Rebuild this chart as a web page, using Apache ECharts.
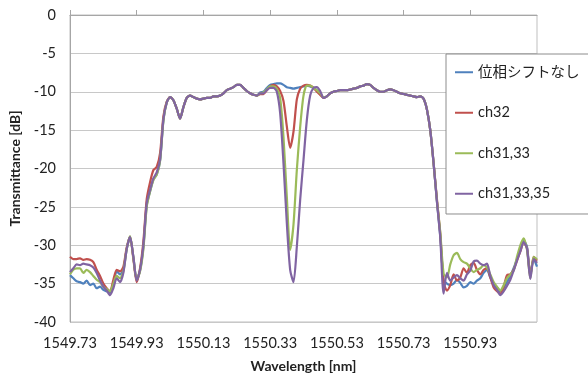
<!DOCTYPE html>
<html>
<head>
<meta charset="utf-8">
<script src="https://cdn.jsdelivr.net/npm/echarts@6/dist/echarts.min.js"></script>
<style>html,body{margin:0;padding:0;background:#fff;}#chart{width:588px;height:381px;}</style>
</head>
<body>
<div id="chart"></div>
<script>
// Wavelength grid (nm), 0.01 nm sampling
const wlStart = 1549.73, wlStep = 0.01, wlCount = 141;
const wavelengths = Array.from({length: wlCount}, (_, i) => +(wlStart + i * wlStep).toFixed(2));
const xTickLabels = ['1549.73','1549.93','1550.13','1550.33','1550.53','1550.73','1550.93'];
const seriesNames = ['位相シフトなし', 'ch32', 'ch31,33', 'ch31,33,35'];

const noShift = [
-33.9,-34.3,-34.7,-34.8,-35.0,-34.6,-35.2,-35.0,-35.6,-35.4,
-35.8,-36.0,-36.2,-35.0,-33.4,-33.8,-33.2,-30.5,-28.9,-31.6,
-34.5,-33.3,-30.2,-24.8,-23.0,-21.4,-20.8,-19.0,-13.7,-11.4,
-10.7,-11.1,-12.2,-13.5,-12.0,-10.8,-10.5,-10.7,-10.9,-11.0,
-10.9,-10.8,-10.8,-10.6,-10.6,-10.5,-10.2,-9.8,-9.6,-9.4,
-9.1,-9.1,-9.5,-9.9,-10.2,-10.4,-10.5,-10.1,-10.0,-9.5,
-9.1,-9.0,-8.9,-8.9,-9.1,-9.4,-9.5,-9.6,-9.5,-9.4,
-9.3,-9.2,-9.3,-9.5,-9.8,-10.3,-10.8,-10.6,-10.2,-10.0,
-9.9,-9.8,-9.8,-9.8,-9.7,-9.6,-9.5,-9.3,-9.2,-9.0,
-9.1,-9.5,-9.8,-10.0,-10.0,-9.8,-9.7,-9.8,-10.0,-10.2,
-10.3,-10.4,-10.5,-10.6,-10.7,-10.6,-10.9,-12.3,-15.0,-19.3,
-24.3,-28.8,-34.5,-35.0,-35.2,-35.0,-34.5,-34.9,-35.5,-35.3,
-34.8,-35.0,-34.6,-34.3,-33.6,-33.2,-34.2,-35.0,-35.5,-36.0,
-35.6,-34.8,-34.0,-33.0,-31.8,-30.6,-29.4,-30.2,-33.8,-31.8,
-32.8];

const ch32 = [
-31.5,-31.8,-31.8,-31.7,-31.9,-31.8,-31.9,-32.2,-33.2,-34.0,
-35.0,-35.6,-36.0,-34.5,-33.2,-33.4,-32.8,-30.3,-28.9,-31.8,
-34.8,-33.0,-29.5,-24.0,-21.8,-20.2,-19.8,-18.0,-13.2,-11.3,
-10.7,-11.1,-12.2,-13.5,-12.0,-10.8,-10.5,-10.7,-10.9,-11.0,
-10.9,-10.8,-10.8,-10.6,-10.6,-10.5,-10.2,-9.8,-9.6,-9.4,
-9.1,-9.1,-9.5,-9.9,-10.2,-10.4,-10.5,-10.3,-10.3,-9.8,
-9.3,-9.1,-9.3,-9.9,-11.2,-14.5,-17.3,-15.2,-11.0,-9.6,
-9.2,-9.1,-9.2,-9.5,-10.0,-10.4,-10.8,-10.6,-10.2,-10.0,
-9.9,-9.8,-9.8,-9.8,-9.7,-9.6,-9.5,-9.3,-9.2,-9.0,
-9.1,-9.5,-9.8,-10.0,-10.0,-9.8,-9.7,-9.8,-10.0,-10.2,
-10.3,-10.4,-10.5,-10.6,-10.7,-10.6,-10.9,-12.3,-15.0,-19.3,
-24.0,-28.5,-34.8,-35.9,-35.2,-33.8,-34.6,-34.2,-33.0,-33.6,
-32.6,-32.3,-33.2,-33.8,-33.2,-33.0,-34.2,-35.5,-36.0,-36.3,
-35.4,-33.9,-33.8,-33.2,-32.0,-30.8,-29.6,-30.4,-34.0,-31.5,
-32.0];

const ch31_33 = [
-33.8,-33.2,-33.0,-33.0,-33.6,-33.2,-33.5,-34.0,-34.5,-34.8,
-35.4,-35.7,-36.0,-35.0,-34.0,-34.3,-33.4,-30.5,-28.8,-31.6,
-34.5,-33.4,-30.5,-25.0,-23.0,-21.5,-20.8,-19.0,-13.8,-11.4,
-10.7,-11.1,-12.2,-13.5,-12.0,-10.8,-10.5,-10.7,-10.9,-11.0,
-10.9,-10.8,-10.8,-10.6,-10.6,-10.5,-10.2,-9.8,-9.6,-9.4,
-9.1,-9.1,-9.5,-9.9,-10.2,-10.4,-10.5,-10.2,-10.1,-9.7,
-9.3,-9.3,-9.6,-10.8,-15.9,-23.7,-30.6,-27.3,-20.2,-14.6,
-10.5,-9.2,-9.2,-9.5,-9.8,-10.2,-10.7,-10.6,-10.2,-10.0,
-9.9,-9.8,-9.8,-9.8,-9.7,-9.6,-9.5,-9.3,-9.2,-9.0,
-9.1,-9.5,-9.8,-10.0,-10.0,-9.8,-9.7,-9.8,-10.0,-10.2,
-10.3,-10.4,-10.5,-10.6,-10.7,-10.6,-10.9,-12.3,-15.0,-19.3,
-24.2,-28.3,-33.7,-34.2,-32.5,-31.3,-31.0,-31.8,-32.2,-32.4,
-33.0,-33.5,-33.2,-33.0,-32.6,-32.9,-33.8,-34.8,-35.4,-35.9,
-35.2,-34.3,-33.8,-33.3,-31.5,-30.0,-29.1,-30.6,-34.3,-31.5,
-31.8];

const ch31_33_35 = [
-33.5,-33.0,-32.5,-32.6,-32.4,-32.5,-32.6,-32.9,-33.6,-34.6,
-35.4,-35.9,-36.5,-35.6,-34.3,-34.8,-33.6,-30.5,-28.9,-31.5,
-34.6,-33.2,-30.0,-24.5,-22.8,-21.3,-20.5,-18.8,-13.6,-11.4,
-10.7,-11.1,-12.2,-13.5,-12.0,-10.8,-10.5,-10.7,-10.9,-11.0,
-10.9,-10.8,-10.8,-10.6,-10.6,-10.5,-10.2,-9.8,-9.6,-9.4,
-9.1,-9.1,-9.5,-9.9,-10.2,-10.4,-10.5,-10.2,-10.2,-9.8,
-9.5,-9.5,-10.0,-12.8,-19.3,-27.1,-33.2,-34.8,-30.2,-24.1,
-18.9,-13.7,-10.5,-9.5,-9.4,-9.9,-10.8,-10.6,-10.2,-10.0,
-9.9,-9.8,-9.8,-9.8,-9.7,-9.6,-9.5,-9.3,-9.2,-9.0,
-9.1,-9.5,-9.8,-10.0,-10.0,-9.8,-9.7,-9.8,-10.0,-10.2,
-10.3,-10.4,-10.5,-10.6,-10.7,-10.6,-10.9,-12.3,-15.0,-19.3,
-24.3,-29.0,-36.3,-33.6,-34.6,-34.2,-33.9,-34.3,-34.6,-33.8,
-33.3,-32.1,-32.0,-32.4,-32.6,-32.4,-34.0,-35.2,-35.8,-36.5,
-36.0,-35.3,-34.5,-33.3,-32.0,-30.8,-29.6,-30.4,-34.4,-31.8,
-32.3];

const seriesValues = [noShift, ch32, ch31_33, ch31_33_35];
const colors = ['#4F81BD', '#C0504D', '#9BBB59', '#8064A2'];

const font = 'Lato, "Noto Sans CJK JP", sans-serif';
const chart = echarts.init(document.getElementById('chart'), null, {renderer: 'canvas'});
chart.setOption({
  animation: false,
  backgroundColor: '#fff',
  grid: {left: 70, right: 51, top: 15, bottom: 59, show: true, borderColor: '#BFBFBF', borderWidth: 1},
  legend: {
    orient: 'vertical', left: 446, top: 54,
    padding: [11, 24, 13, 9], itemGap: 26,
    backgroundColor: '#fff', borderColor: '#8C8C8C', borderWidth: 1,
    icon: 'rect', itemWidth: 18, itemHeight: 2,
    textStyle: {fontFamily: font, fontSize: 14.5, color: '#222'},
    data: seriesNames
  },
  xAxis: {
    type: 'value', min: 1549.73, max: 1551.13, interval: 0.2,
    name: 'Wavelength [nm]', nameLocation: 'middle', nameGap: 37,
    nameTextStyle: {fontFamily: font, fontSize: 14, fontWeight: 'bold', color: '#222'},
    axisLine: {lineStyle: {color: '#A6A6A6'}},
    axisTick: {inside: true, length: 5, lineStyle: {color: '#A6A6A6'}},
    splitLine: {show: false},
    axisLabel: {
      fontFamily: font, fontSize: 14.5, color: '#222', margin: 14, showMaxLabel: false,
      formatter: v => { const s = v.toFixed(2); return xTickLabels.indexOf(s) >= 0 ? s : ''; }
    }
  },
  yAxis: {
    type: 'value', min: -40, max: 0, interval: 5,
    name: 'Transmittance [dB]', nameLocation: 'middle', nameGap: 38, nameRotate: 90,
    nameTextStyle: {fontFamily: font, fontSize: 14, fontWeight: 'bold', color: '#222'},
    axisLine: {show: true, lineStyle: {color: '#A6A6A6'}},
    axisTick: {show: false},
    splitLine: {lineStyle: {color: '#C8C8C8'}},
    axisLabel: {fontFamily: font, fontSize: 14.5, color: '#222', margin: 14}
  },
  series: seriesNames.map((name, k) => ({
    name: name, type: 'line', showSymbol: false, smooth: 0.25,
    color: colors[k],
    lineStyle: {width: 2.2, color: colors[k]},
    data: wavelengths.map((w, i) => [w, seriesValues[k][i]])
  }))
});
</script>
</body>
</html>
